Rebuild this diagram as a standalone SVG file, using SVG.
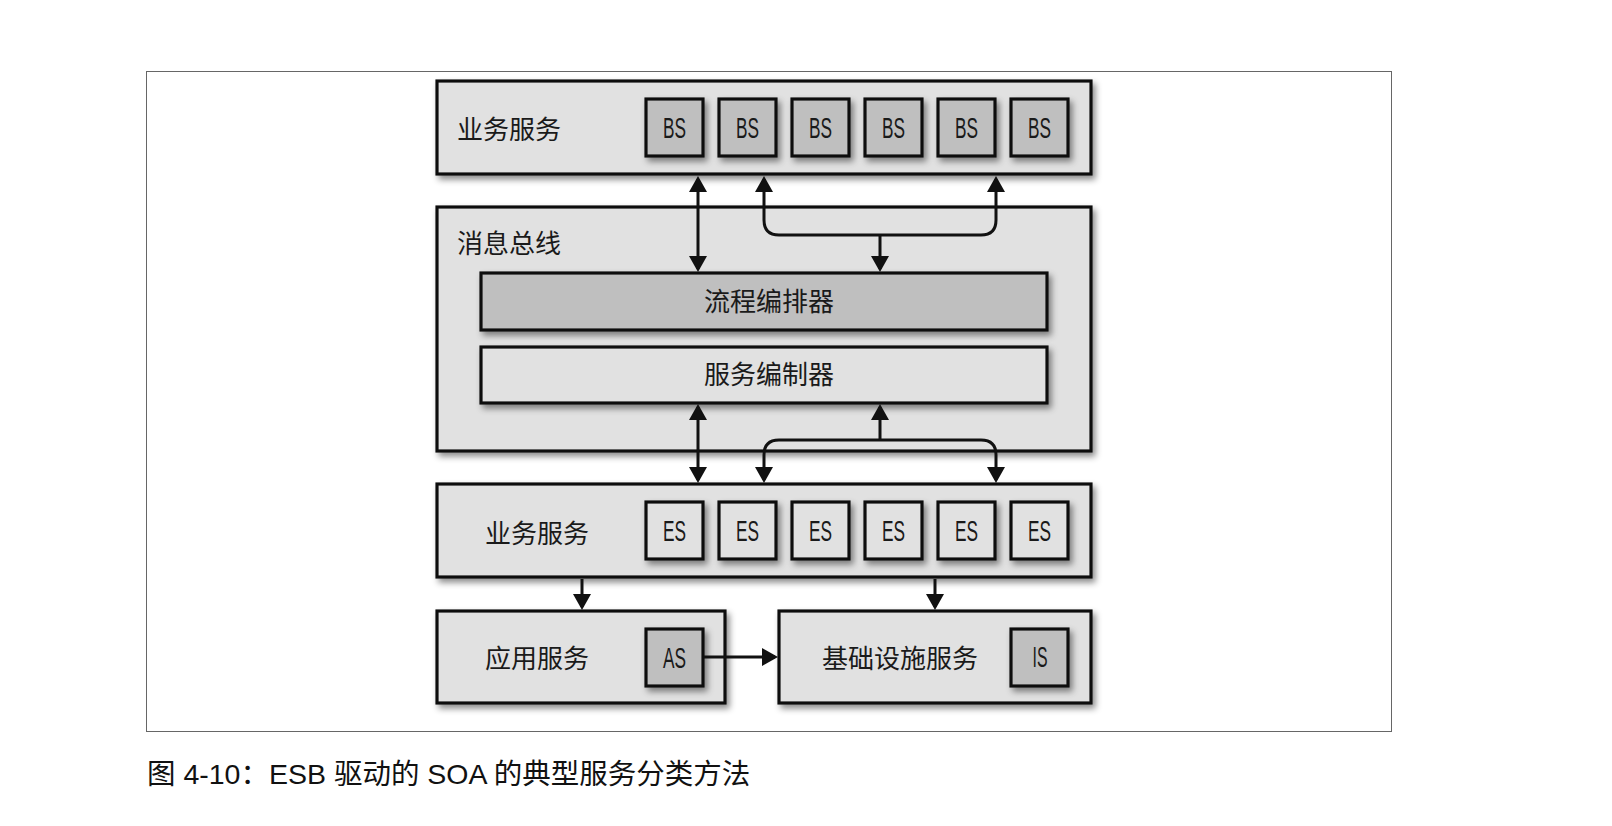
<svg xmlns="http://www.w3.org/2000/svg" width="1612" height="826" viewBox="0 0 1612 826">
<style>
.box{fill:#e1e1e1;stroke:#111;stroke-width:3.2;filter:url(#sh)}
.dark{fill:#bfbfbf;stroke:#111;stroke-width:3.2;filter:url(#sh)}
.lbl{font-family:"Noto Sans CJK SC","Noto Sans",sans-serif;font-size:26px;fill:#1a1a1a}
.abbr{font-family:"Liberation Sans",Arial,sans-serif;font-size:29px;fill:#1a1a1a;text-anchor:middle}
.cap{font-family:"Liberation Sans","Noto Sans CJK SC",sans-serif;font-size:28.5px;fill:#111}
.con{fill:none;stroke:#111;stroke-width:3}
</style>
<defs>
<filter id="sh" x="-10%" y="-10%" width="130%" height="140%">
<feDropShadow dx="3" dy="4" stdDeviation="3" flood-color="#000" flood-opacity="0.45"/>
</filter>
<marker id="ah" viewBox="0 0 16 18" refX="13" refY="9" markerWidth="16" markerHeight="18" orient="auto-start-reverse" markerUnits="userSpaceOnUse">
<path d="M0,0 L16,9 L0,18 z" fill="#111"/>
</marker>
</defs>
<rect x="0" y="0" width="1612" height="826" fill="#fff"/>
<rect id="frame" x="146.5" y="71.5" width="1245" height="660" fill="none" stroke="#666" stroke-width="1"/>

<g id="bs-layer">
<rect class="box" x="437" y="81" width="654" height="93"/>
<text class="lbl" x="457" y="139">业务服务</text>
</g>
<g id="bs1"><rect class="dark" x="646" y="99" width="57" height="57"/><text class="abbr" x="674.5" y="138" textLength="23" lengthAdjust="spacingAndGlyphs">BS</text></g>
<g id="bs2"><rect class="dark" x="719" y="99" width="57" height="57"/><text class="abbr" x="747.5" y="138" textLength="23" lengthAdjust="spacingAndGlyphs">BS</text></g>
<g id="bs3"><rect class="dark" x="792" y="99" width="57" height="57"/><text class="abbr" x="820.5" y="138" textLength="23" lengthAdjust="spacingAndGlyphs">BS</text></g>
<g id="bs4"><rect class="dark" x="865" y="99" width="57" height="57"/><text class="abbr" x="893.5" y="138" textLength="23" lengthAdjust="spacingAndGlyphs">BS</text></g>
<g id="bs5"><rect class="dark" x="938" y="99" width="57" height="57"/><text class="abbr" x="966.5" y="138" textLength="23" lengthAdjust="spacingAndGlyphs">BS</text></g>
<g id="bs6"><rect class="dark" x="1011" y="99" width="57" height="57"/><text class="abbr" x="1039.5" y="138" textLength="23" lengthAdjust="spacingAndGlyphs">BS</text></g>

<g id="bus">
<rect class="box" x="437" y="207" width="654" height="244"/>
<text class="lbl" x="457" y="253">消息总线</text>
</g>
<g id="orchestrator">
<rect class="dark" x="481" y="273" width="566" height="57"/>
<text class="lbl" x="769" y="311" text-anchor="middle">流程编排器</text>
</g>
<g id="composer">
<rect class="box" x="481" y="347" width="566" height="56"/>
<text class="lbl" x="769" y="384" text-anchor="middle">服务编制器</text>
</g>

<g id="es-layer">
<rect class="box" x="437" y="484" width="654" height="93"/>
<text class="lbl" x="485" y="543">业务服务</text>
</g>
<g id="es1"><rect class="box" x="646" y="502" width="57" height="57"/><text class="abbr" x="674.5" y="541" textLength="23" lengthAdjust="spacingAndGlyphs">ES</text></g>
<g id="es2"><rect class="box" x="719" y="502" width="57" height="57"/><text class="abbr" x="747.5" y="541" textLength="23" lengthAdjust="spacingAndGlyphs">ES</text></g>
<g id="es3"><rect class="box" x="792" y="502" width="57" height="57"/><text class="abbr" x="820.5" y="541" textLength="23" lengthAdjust="spacingAndGlyphs">ES</text></g>
<g id="es4"><rect class="box" x="865" y="502" width="57" height="57"/><text class="abbr" x="893.5" y="541" textLength="23" lengthAdjust="spacingAndGlyphs">ES</text></g>
<g id="es5"><rect class="box" x="938" y="502" width="57" height="57"/><text class="abbr" x="966.5" y="541" textLength="23" lengthAdjust="spacingAndGlyphs">ES</text></g>
<g id="es6"><rect class="box" x="1011" y="502" width="57" height="57"/><text class="abbr" x="1039.5" y="541" textLength="23" lengthAdjust="spacingAndGlyphs">ES</text></g>

<g id="app">
<rect class="box" x="437" y="611" width="288" height="92"/>
<text class="lbl" x="485" y="668">应用服务</text>
</g>
<g id="as"><rect class="dark" x="646" y="629" width="57" height="57"/><text class="abbr" x="674.5" y="668" textLength="23" lengthAdjust="spacingAndGlyphs">AS</text></g>

<g id="infra">
<rect class="box" x="779" y="611" width="312" height="92"/>
<text class="lbl" x="822" y="668">基础设施服务</text>
</g>
<g id="is"><rect class="dark" x="1011" y="629" width="57" height="57"/><text class="abbr" x="1040" y="667" textLength="15" lengthAdjust="spacingAndGlyphs">IS</text></g>

<g id="connectors">
<path class="con" d="M698,179 V269" marker-start="url(#ah)" marker-end="url(#ah)"/>
<path class="con" d="M764,179 V220 Q764,235 779,235 H981 Q996,235 996,220 V179" marker-start="url(#ah)" marker-end="url(#ah)"/>
<path class="con" d="M880,235 V269" marker-end="url(#ah)"/>
<path class="con" d="M698,407 V480" marker-start="url(#ah)" marker-end="url(#ah)"/>
<path class="con" d="M764,480 V455 Q764,440 779,440 H981 Q996,440 996,455 V480" marker-start="url(#ah)" marker-end="url(#ah)"/>
<path class="con" d="M880,440 V407" marker-end="url(#ah)"/>
<path class="con" d="M582,579 V607" marker-end="url(#ah)"/>
<path class="con" d="M935,579 V607" marker-end="url(#ah)"/>
<path class="con" d="M704,657 H775" marker-end="url(#ah)"/>
</g>

<text class="cap" x="147" y="784">图 4-10：ESB 驱动的 SOA 的典型服务分类方法</text>
</svg>
